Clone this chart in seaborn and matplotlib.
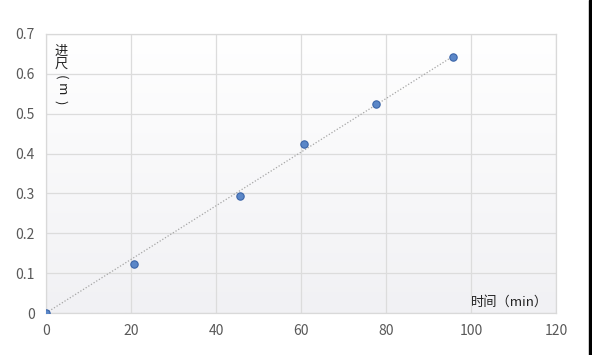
import numpy as np
import pandas as pd
import seaborn as sns
import matplotlib.pyplot as plt
from matplotlib.patches import Rectangle

# 读取图上的数据点
time_min = [0, 20.7, 45.6, 60.7, 77.6, 95.8]
footage_m = [0, 0.123, 0.294, 0.424, 0.524, 0.642]
x_ticks = [0, 20, 40, 60, 80, 100, 120]
y_ticks = [0, 0.1, 0.2, 0.3, 0.4, 0.5, 0.6, 0.7]
y_tick_labels = ["0", "0.1", "0.2", "0.3", "0.4", "0.5", "0.6", "0.7"]

df = pd.DataFrame({"time": time_min, "footage": footage_m})

sns.set_style("white")
plt.rcParams['font.family'] = ['Noto Sans CJK SC', 'DejaVu Sans']

fig = plt.figure(figsize=(5.92, 3.55), dpi=100)
ax = fig.add_axes([0.0777, 0.1183, 0.8615, 0.786])

# background gradient (white -> light grey)
grad = np.linspace(0, 1, 256).reshape(-1, 1)
ax.imshow(grad, extent=[0, 120, 0, 0.7], aspect="auto", origin="upper",
          cmap=sns.blend_palette(["#ffffff", "#f1f1f4"], as_cmap=True), zorder=0)

# linear trendline through origin
a = np.sum(df.time * df.footage) / np.sum(df.time ** 2)
xs = np.array([0, max(time_min)])
ax.plot(xs, a * xs, ls=(0, (1, 1.5)), color="#a6a6a6", lw=0.9, zorder=2)

sns.scatterplot(data=df, x="time", y="footage", ax=ax, s=28,
                color="#5b87c8", edgecolor="#3a64a8", linewidth=0.8, zorder=3)

ax.set_xlim(0, 120)
ax.set_ylim(0, 0.7)
ax.set_xticks(x_ticks)
ax.set_yticks(y_ticks)
ax.set_yticklabels(y_tick_labels)
ax.grid(True, color="#dcdcdc", lw=0.9)
ax.set_axisbelow(True)
for s in ax.spines.values():
    s.set_color("#d9d9d9")
    s.set_linewidth(0.9)
ax.tick_params(axis="both", length=0, labelsize=10, labelcolor="#595959")
ax.tick_params(axis="x", pad=8)
ax.tick_params(axis="y", pad=8)
ax.set_xlabel("")
ax.set_ylabel("")

# vertical y title inside plot: 进尺（m）
tx = 0.029
ax.text(tx, 0.96, "进\n尺", transform=ax.transAxes, fontsize=9.5,
        va="top", ha="center", linespacing=1.0, color="#222222")
for yy, ch in [(0.846, "("), (0.801, "m"), (0.757, ")")]:
    ax.text(tx, yy, ch, transform=ax.transAxes, fontsize=9.5, rotation=-90,
            va="center", ha="center", color="#222222")
ax.text(0.985, 0.015, "时间（min）", transform=ax.transAxes, fontsize=9.5,
        va="bottom", ha="right", color="#222222")

fig.patches.append(Rectangle((0.995, 0), 0.005, 1, transform=fig.transFigure,
                             color="black", zorder=10))

fig.savefig("out.png", dpi=100)
